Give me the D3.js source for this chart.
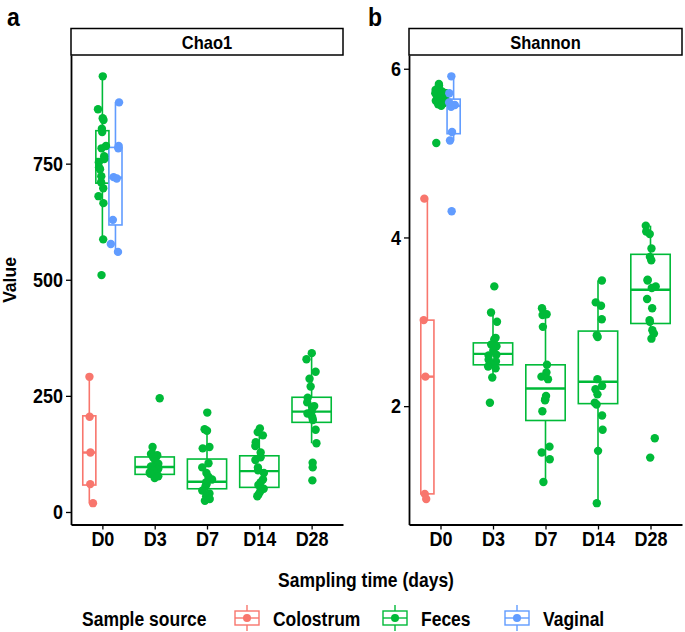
<!DOCTYPE html>
<html lang='en'>
<head>
<meta charset='UTF-8'>
<title>Chao1 and Shannon by sampling time</title>
<style>
  body { margin: 0; background: #fff; }
  text { font-family: 'Liberation Sans', Arial, sans-serif; font-weight: bold; fill: #000; }
  text:not(.ylab) { transform-box: fill-box; transform-origin: center; transform: scaleY(1.15); }
  .title { font-size: 17.5px; }
  .axis .domain { stroke-width: 1.8; }
  .axis .tick line { stroke-width: 1.3; }
  .axis .tick text { font-size: 18px !important; }
</style>
<script src='https://d3js.org/d3.v7.min.js'></script>
</head>
<body>
<script>

var days = ['D0', 'D3', 'D7', 'D14', 'D28'];
var sources = ['Colostrum', 'Feces', 'Vaginal'];
var colours = ['#F8766D', '#00BA38', '#619CFF'];

// Chao1 points
var chaoColostrum = [291, 205, 128, 60, 19];
var chaoFecesD0 = [938, 867, 848, 844, 825, 818, 788, 783, 766, 760, 753, 742, 738, 723, 710, 697, 680, 665, 587, 510];
var chaoVaginal = [882, 788, 783, 721, 718, 629, 577, 560];
var chaoD3 = [245, 140, 125, 122, 118, 113, 108, 104, 98, 95, 92, 89, 85, 82, 77, 73];
var chaoD7 = [214, 178, 175, 140, 137, 105, 96, 84, 76, 70, 64, 60, 55, 46, 40, 34, 28, 24];
var chaoD14 = [180, 172, 165, 150, 142, 128, 118, 112, 96, 90, 84, 70, 64, 58, 50, 44, 38, 34];
var chaoD28 = [342, 329, 302, 287, 270, 246, 236, 228, 226, 217, 212, 204, 198, 177, 148, 106, 96, 68];

// Shannon points
var shanColostrum = [4.46, 3.02, 2.35, 0.96, 0.90];
var shanFecesD0 = [5.82, 5.80, 5.78, 5.76, 5.75, 5.73, 5.71, 5.70, 5.68, 5.67, 5.65, 5.63, 5.62, 5.61, 5.60, 5.59, 5.58, 5.56, 5.12];
var shanVaginal = [5.91, 5.71, 5.60, 5.57, 5.55, 5.25, 5.15, 4.31];
var shanD3 = [3.42, 3.11, 3.00, 2.81, 2.79, 2.73, 2.71, 2.66, 2.61, 2.60, 2.55, 2.53, 2.50, 2.47, 2.45, 2.34, 2.04];
var shanD7 = [3.16, 3.09, 3.08, 2.94, 2.49, 2.40, 2.35, 2.32, 2.12, 2.08, 2.07, 1.94, 1.52, 1.45, 1.37, 1.10];
var shanD14 = [3.49, 3.23, 3.19, 3.03, 2.84, 2.82, 2.32, 2.24, 2.20, 2.14, 2.04, 2.02, 1.89, 1.72, 1.47, 0.85];
var shanD28 = [4.14, 4.07, 4.04, 3.87, 3.77, 3.73, 3.50, 3.49, 3.42, 3.40, 3.27, 3.16, 3.02, 3.00, 2.90, 2.86, 2.80, 1.62, 1.39];

// box stats [lower whisker, q1, median, q3, upper whisker]
var chaoBoxD0 = [[19, 58, 128, 207, 291], [587, 708, 760, 821, 938], [560, 618, 720, 785, 882]];
var chaoBoxFeces = [[73, 81, 97, 118.5, 140], [24, 50, 65, 114, 177], [34, 53, 88, 121, 178], [148, 193, 216, 247, 342]];
var shanBoxD0 = [[0.90, 0.96, 2.35, 3.02, 4.46], [5.55, 5.62, 5.68, 5.75, 5.82], [5.15, 5.23, 5.56, 5.64, 5.91]];
var shanBoxFeces = [[2.34, 2.49, 2.62, 2.75, 3.11], [1.10, 1.83, 2.21, 2.49, 3.16], [0.85, 2.03, 2.29, 2.89, 3.49], [2.80, 2.98, 3.38, 3.80, 4.14]];

var chaoTicks = [0, 250, 500, 750];
var shanTicks = [2, 4, 6];

function groups(colo, fecesD0, vag, rest, boxD0, boxRest) {
  var out = [
    { day: 'D0', src: 0, values: colo, box: boxD0[0] },
    { day: 'D0', src: 1, values: fecesD0, box: boxD0[1] },
    { day: 'D0', src: 2, values: vag, box: boxD0[2] }
  ];
  rest.forEach(function (v, i) {
    out.push({ day: days[i + 1], src: 1, values: v, box: boxRest[i] });
  });
  return out;
}

var chaoGroups = groups(chaoColostrum, chaoFecesD0, chaoVaginal, [chaoD3, chaoD7, chaoD14, chaoD28], chaoBoxD0, chaoBoxFeces);
var shanGroups = groups(shanColostrum, shanFecesD0, shanVaginal, [shanD3, shanD7, shanD14, shanD28], shanBoxD0, shanBoxFeces);

// seeded jitter, like geom_jitter
function mulberry32(a) {
  return function () {
    a |= 0; a = a + 0x6D2B79F5 | 0;
    var t = Math.imul(a ^ a >>> 15, 1 | a);
    t = t + Math.imul(t ^ t >>> 7, 61 | t) ^ t;
    return ((t ^ t >>> 14) >>> 0) / 4294967296;
  };
}

var svg = d3.select('body').append('svg').attr('width', 685).attr('height', 632);

var top0 = 55, bottom0 = 524.5;

function styleAxis(sel) {
  sel.attr('font-size', null).attr('font-family', null);
  sel.selectAll('text').attr('font-size', null).style('font-size', '18px');
}

function drawPanel(x0, x1, title, letter, letterX, data, ticks, seed) {
  var rnd = mulberry32(seed);
  var all = [];
  data.forEach(function (g) { all = all.concat(g.values); });
  var ext = d3.extent(all);
  var pad = (ext[1] - ext[0]) * 0.05;
  var y = d3.scaleLinear().domain([ext[0] - pad, ext[1] + pad]).range([bottom0, top0]);
  var x = d3.scalePoint().domain(days).range([x0, x1]).padding(0.6);
  var step = x.step();

  // strip
  svg.append('rect')
    .attr('x', x0).attr('y', 28.5).attr('width', x1 - x0).attr('height', 26.5)
    .attr('fill', '#fff').attr('stroke', '#000').attr('stroke-width', 1.5);
  svg.append('text')
    .attr('x', (x0 + x1) / 2).attr('y', 48)
    .attr('text-anchor', 'middle').style('font-size', '16.5px')
    .text(title);

  svg.append('text')
    .attr('x', letterX).attr('y', 25).style('font-size', '23px')
    .text(letter);

  // boxes
  data.forEach(function (g) {
    var w = g.day === 'D0' ? step * 0.25 : step * 0.75;
    var cx = x(g.day) + (g.day === 'D0' ? (g.src - 1) * step * 0.25 : 0);
    g.cx = cx;
    var col = colours[g.src];
    var b = g.box;
    var bg = svg.append('g').attr('stroke', col).attr('stroke-width', 1.6).attr('fill', 'none');
    bg.append('line').attr('x1', cx).attr('x2', cx).attr('y1', y(b[0])).attr('y2', y(b[1]));
    bg.append('line').attr('x1', cx).attr('x2', cx).attr('y1', y(b[3])).attr('y2', y(b[4]));
    bg.append('rect')
      .attr('x', cx - w / 2).attr('width', w)
      .attr('y', y(b[3])).attr('height', y(b[1]) - y(b[3]))
      .attr('fill', '#fff');
    bg.append('line').attr('x1', cx - w / 2).attr('x2', cx + w / 2)
      .attr('y1', y(b[2])).attr('y2', y(b[2])).attr('stroke-width', 2.4);
  });

  // jittered points
  data.forEach(function (g) {
    svg.append('g').selectAll('circle')
      .data(g.values)
      .enter()
      .append('circle')
      .attr('r', 4.2)
      .attr('fill', colours[g.src])
      .attr('cx', function () { return g.cx + (rnd() * 2 - 1) * 0.1 * step; })
      .attr('cy', function (d) { return y(d); });
  });

  // axes
  svg.append('g')
    .attr('class', 'axis')
    .attr('transform', 'translate(' + x0 + ',0)')
    .call(d3.axisLeft(y).tickValues(ticks).tickFormat(d3.format('d')).tickSize(5).tickSizeOuter(0))
    .call(styleAxis);
  svg.append('g')
    .attr('class', 'axis')
    .attr('transform', 'translate(0,' + bottom0 + ')')
    .call(d3.axisBottom(x).tickSize(5).tickSizeOuter(0))
    .call(styleAxis);
}

drawPanel(71, 343, 'Chao1', 'a', 7, chaoGroups, chaoTicks, 11);
drawPanel(409, 682, 'Shannon', 'b', 368, shanGroups, shanTicks, 29);

// axis titles
svg.append('text')
  .attr('class', 'title ylab')
  .attr('transform', 'translate(15.5,280) rotate(-90)')
  .attr('text-anchor', 'middle')
  .text('Value');

svg.append('text')
  .attr('class', 'title')
  .attr('x', 366).attr('y', 586)
  .attr('text-anchor', 'middle')
  .text('Sampling time (days)');

// legend
var legendY = 618;
svg.append('text')
  .attr('class', 'title')
  .attr('x', 82).attr('y', legendY + 7)
  .text('Sample source');

var keyX = [235, 383, 505];
sources.forEach(function (s, i) {
  var k = svg.append('g').attr('transform', 'translate(' + keyX[i] + ',' + legendY + ')');
  var col = colours[i];
  k.append('line').attr('x1', 12).attr('x2', 12).attr('y1', -13).attr('y2', 13)
    .attr('stroke', col).attr('stroke-width', 1.4);
  k.append('rect').attr('x', 0).attr('y', -7).attr('width', 24).attr('height', 14)
    .attr('fill', '#fff').attr('stroke', col).attr('stroke-width', 1.4);
  k.append('line').attr('x1', 0).attr('x2', 24).attr('y1', 0).attr('y2', 0)
    .attr('stroke', col).attr('stroke-width', 1.4);
  k.append('circle').attr('cx', 12).attr('cy', 0).attr('r', 4).attr('fill', col);
  k.append('text')
    .attr('class', 'title')
    .attr('x', 38).attr('y', 7)
    .text(s);
});
</script>
</body>
</html>
